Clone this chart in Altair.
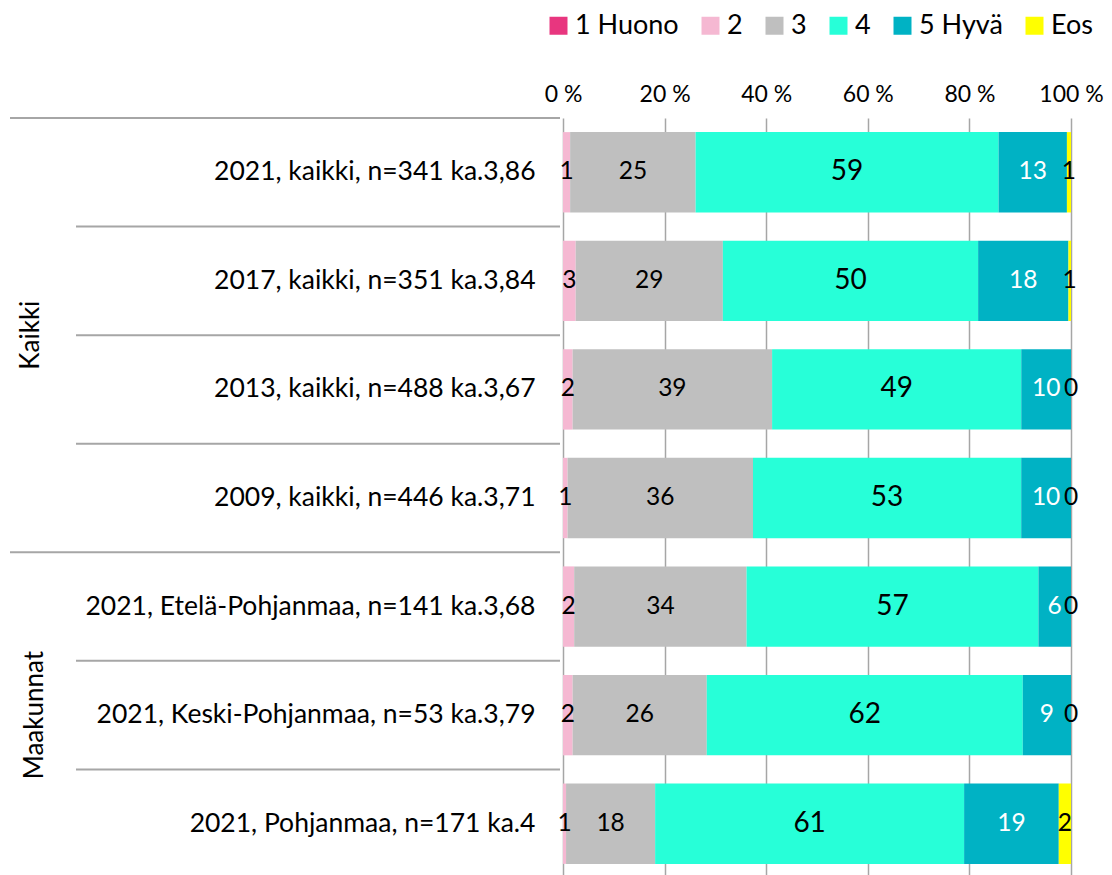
import altair as alt
import pandas as pd

rows = [
    "2021, kaikki, n=341 ka.3,86",
    "2017, kaikki, n=351 ka.3,84",
    "2013, kaikki, n=488 ka.3,67",
    "2009, kaikki, n=446 ka.3,71",
    "2021, Etelä-Pohjanmaa, n=141 ka.3,68",
    "2021, Keski-Pohjanmaa, n=53 ka.3,79",
    "2021, Pohjanmaa, n=171 ka.4",
]
group_start = [True, False, False, False, True, False, False]
groups = ["Kaikki", "Maakunnat"]

categories = ["1 Huono", "2", "3", "4", "5 Hyvä", "Eos"]
colors = ["#E8367F", "#F5B8D2", "#BFBFBF", "#27FFD8", "#00B2C4", "#FFFF00"]

# shares (%)
huono = [0, 0, 0, 0, 0, 0, 0]
v2 = [1.4, 2.5, 1.9, 0.9, 2.2, 1.9, 0.6]
v3 = [24.6, 29.0, 39.3, 36.5, 33.9, 26.4, 17.5]
v4 = [59.4, 50.3, 49.1, 52.8, 57.4, 62.2, 60.7]
v5 = [13.4, 17.8, 9.8, 9.8, 6.4, 9.5, 18.6]
eos = [0.8, 0.5, 0, 0, 0, 0, 2.4]

# printed data labels
lab_huono = ["", "", "", "", "", "", ""]
lab2 = ["1", "3", "2", "1", "2", "2", "1"]
lab3 = ["25", "29", "39", "36", "34", "26", "18"]
lab4 = ["59", "50", "49", "53", "57", "62", "61"]
lab5 = ["13", "18", "10", "10", "6", "9", "19"]
lab_eos = ["1", "1", "0", "0", "0", "0", "2"]

series = [huono, v2, v3, v4, v5, eos]
labels = [lab_huono, lab2, lab3, lab4, lab5, lab_eos]

records = []
for i, r in enumerate(rows):
    vals = [s[i] for s in series]
    total = sum(vals)
    start = 0.0
    for cat, s, lab in zip(categories, series, labels):
        pct = s[i] / total * 100
        records.append(dict(row=r, cat=cat, start=start, end=start + pct,
                            mid=start + pct / 2, label=lab[i]))
        start += pct
df = pd.DataFrame(records)

sep_df = pd.DataFrame({"row": rows, "group_start": group_start})
grp_df = pd.DataFrame({"grp": groups, "row": [rows[2], rows[5]]})

ysort = rows

bars = alt.Chart(df).mark_bar(height=alt.RelativeBandSize(0.74)).encode(
    y=alt.Y("row:N", sort=ysort,
            scale=alt.Scale(paddingInner=0, paddingOuter=0),
            axis=alt.Axis(title=None, labelFontSize=26.5, labelPadding=28,
                          ticks=False, domain=False, labelColor="black",
                          labelLimit=700)),
    x=alt.X("start:Q", scale=alt.Scale(domain=[0, 100], nice=False),
            axis=alt.Axis(orient="top", values=[0, 20, 40, 60, 80, 100],
                          labelExpr="datum.value + ' %'", title=None,
                          grid=True, gridColor="#A6A6A6", gridWidth=1.5,
                          ticks=False, domain=False, labelFontSize=23,
                          labelPadding=12, labelFlush=False,
                          labelColor="black")),
    x2="end:Q",
    color=alt.Color("cat:N", sort=categories,
                    scale=alt.Scale(domain=categories, range=colors),
                    legend=alt.Legend(title=None, orient="none", legendX=-18,
                                      legendY=-106, direction="horizontal",
                                      symbolType="square", symbolSize=324,
                                      symbolStrokeWidth=0, labelFontSize=27,
                                      labelOffset=3, columnPadding=18,
                                      padding=0, labelColor="black")),
)

texts = alt.Chart(df).transform_filter("datum.label != ''").mark_text(
    baseline="middle", align="center"
).encode(
    y=alt.Y("row:N", sort=ysort),
    x=alt.X("mid:Q"),
    text="label:N",
    color=alt.condition("datum.cat == '5 Hyvä'", alt.value("white"), alt.value("black")),
    size=alt.condition("datum.cat == '4'", alt.value(28), alt.value(24.5)),
)

rule_group = alt.Chart(sep_df).transform_filter("datum.group_start").mark_rule(
    color="#A6A6A6", strokeWidth=2
).encode(
    y=alt.Y("row:N", sort=ysort, bandPosition=0),
    x=alt.value(-553), x2=alt.value(-3),
)
rule_inner = alt.Chart(sep_df).transform_filter("!datum.group_start").mark_rule(
    color="#A6A6A6", strokeWidth=2
).encode(
    y=alt.Y("row:N", sort=ysort, bandPosition=0),
    x=alt.value(-487), x2=alt.value(-3),
)

grp1 = alt.Chart(grp_df).transform_filter("datum.grp == 'Kaikki'").mark_text(
    angle=270, fontSize=26, baseline="middle", align="center", color="black"
).encode(
    y=alt.Y("row:N", sort=ysort, bandPosition=0),
    x=alt.value(-532), text="grp:N",
)
grp2 = alt.Chart(grp_df).transform_filter("datum.grp == 'Maakunnat'").mark_text(
    angle=270, fontSize=26, baseline="middle", align="center", color="black"
).encode(
    y=alt.Y("row:N", sort=ysort, bandPosition=0.5),
    x=alt.value(-528), text="grp:N",
)

chart = alt.layer(rule_group, rule_inner, bars, texts, grp1, grp2).properties(
    width=508, height=760,
    autosize=alt.AutoSizeParams(type="none"),
    padding={"left": 555, "top": 110, "right": 33, "bottom": 0},
).configure(font="Lato").configure_view(stroke=None)

chart.save("out.html", embed_options={"renderer": "svg", "actions": False})
